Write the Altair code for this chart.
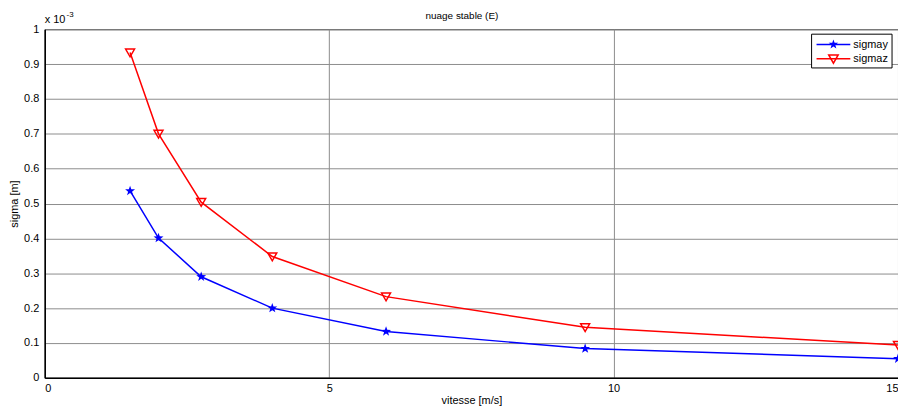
import altair as alt
import pandas as pd

# ---- data ----
vitesse = [1.5, 2, 2.75, 4, 6, 9.5, 15]
sigmay = [0.536, 0.401, 0.290, 0.200, 0.133, 0.084, 0.055]
sigmaz = [0.933, 0.700, 0.504, 0.348, 0.233, 0.145, 0.094]
series_names = ["sigmay", "sigmaz"]
series_colors = ["#0000ff", "#ff0000"]
x_ticks = [0, 5, 10, 15]
y_ticks = [0, 0.1, 0.2, 0.3, 0.4, 0.5, 0.6, 0.7, 0.8, 0.9, 1]
title_text = ["nuage stable (E)"]
x_title = "vitesse [m/s]"
y_title = "sigma [m]"
exp_base = ["x 10"]
exp_power = ["-3"]

rows = []
for v, a in zip(vitesse, sigmay):
    rows.append({"vitesse": v, "sigma": a, "series": "sigmay"})
for v, b in zip(vitesse, sigmaz):
    rows.append({"vitesse": v, "sigma": b, "series": "sigmaz"})
df = pd.DataFrame(rows)

FONT = "Liberation Sans"
STAR = ("M0,-1L0.235,-0.324L0.951,-0.309L0.38,0.124L0.588,0.809L0,0.4"
        "L-0.588,0.809L-0.38,0.124L-0.951,-0.309L-0.235,-0.324Z")
TRI = "M-0.95,-0.75L0.95,-0.75L0,0.9Z"
series_shapes = [STAR, TRI]
series_filled = [True, False]

color_scale = alt.Scale(domain=series_names, range=series_colors)

x_enc = alt.X("vitesse:Q", scale=alt.Scale(domain=[0, 15], nice=False),
              axis=alt.Axis(values=x_ticks, title=x_title, grid=True, ticks=False,
                            labelPadding=5, format="d", titleFontWeight="normal",
                            titleY=26, titleBaseline="alphabetic"))
y_enc = alt.Y("sigma:Q", scale=alt.Scale(domain=[0, 1], nice=False),
              axis=alt.Axis(values=y_ticks, title=y_title, grid=True, ticks=False,
                            labelPadding=6, titlePadding=4, format=".1~f",
                            titleFontWeight="normal"))

base = alt.Chart(df)

lines = base.mark_line(strokeWidth=1.5).encode(
    x=x_enc, y=y_enc,
    color=alt.Color("series:N", scale=color_scale, legend=None),
)

stars = base.transform_filter(alt.datum.series == "sigmay").mark_point(
    shape=STAR, filled=True, size=110, opacity=1
).encode(x=x_enc, y=y_enc, color=alt.Color("series:N", scale=color_scale, legend=None))

tris = base.transform_filter(alt.datum.series == "sigmaz").mark_point(
    shape=TRI, filled=False, size=90, strokeWidth=1.5, opacity=1
).encode(x=x_enc, y=y_enc, color=alt.Color("series:N", scale=color_scale, legend=None))

# ---- legend box (drawn in pixel space of the plot) ----
LEG_X0, LEG_X1, LEG_Y0, LEG_Y1 = 772, 853, 5, 39
ROW0, ROW_STEP = 15.3, 14.4
legend_layers = [
    alt.Chart(pd.DataFrame({"k": [0]})).mark_rect(
        fill="white", stroke="black", strokeWidth=1
    ).encode(x=alt.value(LEG_X0), x2=alt.value(LEG_X1), y=alt.value(LEG_Y0), y2=alt.value(LEG_Y1))
]
for i, (name, col, shp, fil) in enumerate(zip(series_names, series_colors, series_shapes, series_filled)):
    ly = ROW0 + i * ROW_STEP
    one = pd.DataFrame({"series": [name]})
    legend_layers.append(
        alt.Chart(one).mark_rule(color=col, strokeWidth=1.5).encode(
            x=alt.value(777), x2=alt.value(811), y=alt.value(ly))
    )
    legend_layers.append(
        alt.Chart(one).mark_point(shape=shp, filled=fil, color=col, size=100,
                                  strokeWidth=1.5, opacity=1).encode(
            x=alt.value(794), y=alt.value(ly))
    )
    legend_layers.append(
        alt.Chart(one).mark_text(align="left", baseline="middle", fontSize=11,
                                 font=FONT, color="black").encode(
            text="series:N", x=alt.value(814), y=alt.value(ly + 0.5))
    )

title_mark = alt.Chart(pd.DataFrame({"t": title_text})).mark_text(
    align="center", baseline="middle", fontSize=10, font=FONT, color="black"
).encode(text="t:N", x=alt.value(420), y=alt.value(-13))
exp1 = alt.Chart(pd.DataFrame({"t": exp_base})).mark_text(
    align="left", baseline="alphabetic", fontSize=11, font=FONT, color="black"
).encode(text="t:N", x=alt.value(0), y=alt.value(-6))
exp2 = alt.Chart(pd.DataFrame({"t": exp_power})).mark_text(
    align="left", baseline="alphabetic", fontSize=8, font=FONT, color="black"
).encode(text="t:N", x=alt.value(22), y=alt.value(-12))

chart = alt.layer(lines, stars, tris, *legend_layers, title_mark, exp1, exp2).properties(
    width=859, height=351,
    autosize=alt.AutoSizeParams(type="none"),
    padding={"left": 37, "top": 20, "right": 0, "bottom": 30},
    background="white",
).configure_view(stroke="black", strokeWidth=1).configure_axis(
    domainColor="black", domainWidth=1.5, gridColor="#8c8c8c", gridWidth=1, gridOpacity=1,
    labelFont=FONT, labelFontSize=11, labelColor="black",
    titleFont=FONT, titleFontSize=11, titleFontWeight="normal", titleColor="black",
)

chart.save("out.html", embed_options={"renderer": "svg", "actions": False})
